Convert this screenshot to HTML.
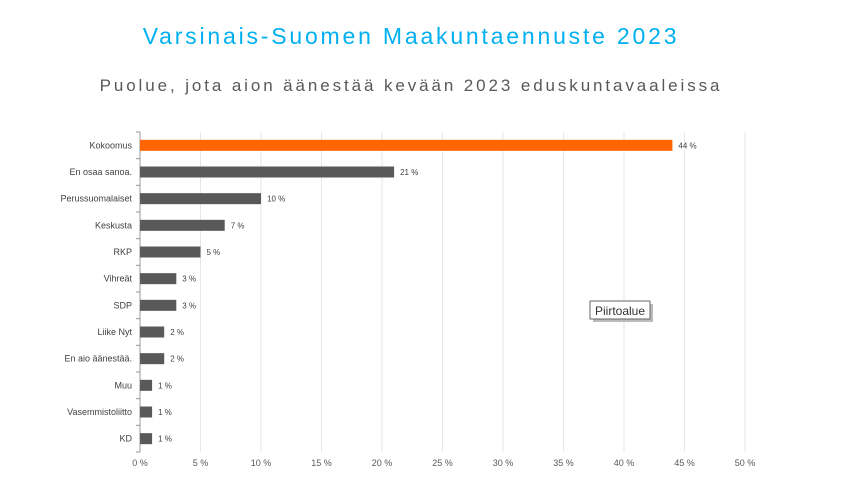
<!DOCTYPE html>
<html><head><meta charset="utf-8"><style>
body{margin:0;background:#fff;width:852px;height:495px;overflow:hidden;font-family:"Liberation Sans",sans-serif}
</style></head><body>
<svg width="852" height="495" xmlns="http://www.w3.org/2000/svg">
<text x="411" y="44" text-anchor="middle" font-size="23" fill="#00B0F0" letter-spacing="2.8">Varsinais-Suomen Maakuntaennuste 2023</text>
<text x="411" y="91" text-anchor="middle" font-size="17" fill="#595959" letter-spacing="2.9">Puolue, jota aion äänestää kevään 2023 eduskuntavaaleissa</text>
<g id="grid"></g>
<g id="bars"></g>
<g id="labels"></g>
<g>
<rect x="593" y="304" width="60" height="18" fill="#bbb"/>
<rect x="590" y="301" width="60" height="18" fill="#fff" stroke="#666"/>
<text x="620" y="315" text-anchor="middle" font-size="12" fill="#333">Piirtoalue</text>
</g>
</svg>
<script>
const categories=["Kokoomus","En osaa sanoa.","Perussuomalaiset","Keskusta","RKP","Vihreät","SDP","Liike Nyt","En aio äänestää.","Muu","Vasemmistoliitto","KD"];
const values=[44,21,10,7,5,3,3,2,2,1,1,1];
const ticks=[0,5,10,15,20,25,30,35,40,45,50];
const NS="http://www.w3.org/2000/svg";
const x0=140,x1=745,yTop=132,yBot=452,band=(yBot-yTop)/categories.length;
const xs=v=>x0+(x1-x0)*v/50;
const ys=i=>yTop+band*i+band/2;
function mk(t,a,p){const e=document.createElementNS(NS,t);for(const k in a)e.setAttribute(k,a[k]);p.appendChild(e);return e;}
const g=document.getElementById('grid'),b=document.getElementById('bars'),l=document.getElementById('labels');
ticks.forEach(t=>{
 if(t>0){const ln=mk('line',{x1:xs(t),x2:xs(t),y1:yTop,y2:yBot,stroke:'#e6e6e6','stroke-width':1},g);
 
 }
 const tx=mk('text',{x:xs(t),y:466,'text-anchor':'middle','font-size':9,fill:'#595959'},l);
 tx.textContent=t+' %';
 
 
});
mk('line',{x1:x0,x2:x0,y1:yTop,y2:yBot,stroke:'#999'},g);
for(let i=0;i<=categories.length;i++)mk('line',{x1:x0-4,x2:x0,y1:yTop+band*i,y2:yTop+band*i,stroke:'#999'},g);
categories.forEach((c,i)=>{
 const r=mk('rect',{x:x0,y:ys(i)-5.5,width:xs(values[i])-x0,height:11,fill:i==0?'#FF6600':'#595959'},b);
 
 
 const t=mk('text',{x:x0-8,y:ys(i)+3,'text-anchor':'end','font-size':9,fill:'#404040'},l);
 t.textContent=c;
 
 
 const v=mk('text',{x:xs(values[i])+6,y:ys(i)+3,'font-size':8,fill:'#404040'},l);
 v.textContent=values[i]+' %';
 
 
});
</script>
</body></html>
